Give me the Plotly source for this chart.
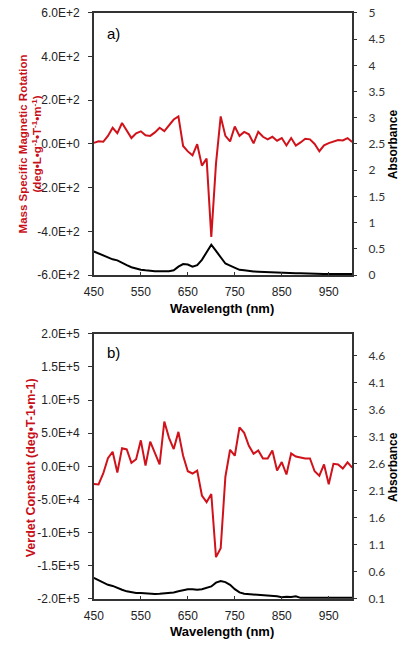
import plotly.graph_objects as go

wavelength = list(range(450, 1001, 10))

rotation_a = [5, 12, 10, 37, 74, 49, 96, 64, 27, 49, 58, 40, 37, 53, 74, 59, 86, 112, 126, -9,
              -34, -52, -1, -99, -67, -425, -90, 126, 37, 12, 80, 37, 55, 44, 3, 56, 33, 21, 33, 15,
              27, -7, 27, -7, 7, 24, 21, 0, -33, -6, 4, 12, 18, 16, 27, 9]
absorb_a = [0.45, 0.41, 0.37, 0.33, 0.30, 0.28, 0.23, 0.19, 0.15, 0.12, 0.10, 0.09, 0.08, 0.075, 0.075, 0.075,
            0.075, 0.09, 0.16, 0.21, 0.20, 0.16, 0.19, 0.29, 0.44, 0.58, 0.46, 0.33, 0.22, 0.18, 0.14, 0.10,
            0.09, 0.075, 0.07, 0.065, 0.06, 0.055, 0.055, 0.05, 0.05, 0.04, 0.04, 0.035, 0.035, 0.03, 0.03,
            0.03, 0.025, 0.02, 0.02, 0.02, 0.02, 0.02, 0.02, 0.02]

verdet_b = [-26500, -27400, -10800, 12300, 22000, -9300, 27400, 25500, 5400, 10800, 39200, 1000, 37200,
            18600, 2900, 67600, 43000, 26000, 52000, 16000, -7400, -10800, -6400, -44000, -54000, -41700,
            -137000, -123500, -15700, 25000, 16000, 58800, 50500, 31000, 19000, 24000, 11800, 11800, 24000,
            -6400, 6400, -12300, 19600, 14700, 12700, 11800, 11800, -7400, -14200, 2900, -27000, 3900, 2900,
            -3400, 5900, -2000]
absorb_b = [0.49, 0.45, 0.41, 0.36, 0.34, 0.30, 0.27, 0.24, 0.225, 0.21, 0.21, 0.20, 0.19, 0.19, 0.195, 0.20,
            0.21, 0.22, 0.24, 0.26, 0.28, 0.28, 0.27, 0.28, 0.30, 0.33, 0.40, 0.43, 0.41, 0.36, 0.28, 0.22,
            0.195, 0.19, 0.18, 0.17, 0.17, 0.165, 0.155, 0.15, 0.13, 0.14, 0.135, 0.15, 0.12, 0.12, 0.12,
            0.12, 0.12, 0.12, 0.12, 0.12, 0.125, 0.12, 0.13, 0.12]

x_ticks = [450, 550, 650, 750, 850, 950]
ya_vals = [-600, -400, -200, 0, 200, 400, 600]
ya_text = ["-6.0E+2", "-4.0E+2", "-2.0E+2", "0.0E+0", "2.0E+2", "4.0E+2", "6.0E+2"]
yb_vals = [-200000, -150000, -100000, -50000, 0, 50000, 100000, 150000, 200000]
yb_text = ["-2.0E+5", "-1.5E+5", "-1.0E+5", "-5.0E+4", "0.0E+0", "5.0E+4", "1.0E+5", "1.5E+5", "2.0E+5"]

RED = "#D0121B"
TITLE_RED = "#C8101A"
AX = "#333333"
ARIAL = "Liberation Sans, Arial, sans-serif"
CAL = "Lato, Open Sans, sans-serif"

fig = go.Figure()
fig.add_trace(go.Scatter(x=wavelength, y=rotation_a, mode="lines", line=dict(color=RED, width=2),
                         xaxis="x", yaxis="y", showlegend=False))
fig.add_trace(go.Scatter(x=wavelength, y=absorb_a, mode="lines", line=dict(color="black", width=2),
                         xaxis="x", yaxis="y2", showlegend=False))
fig.add_trace(go.Scatter(x=wavelength, y=verdet_b, mode="lines", line=dict(color=RED, width=2),
                         xaxis="x2", yaxis="y3", showlegend=False))
fig.add_trace(go.Scatter(x=wavelength, y=absorb_b, mode="lines", line=dict(color="black", width=2),
                         xaxis="x2", yaxis="y4", showlegend=False))

xdom = [86 / 400, 351 / 400]
ya_dom = [1 - 274 / 647, 1 - 6 / 647]
yb_dom = [1 - 605 / 647, 1 - 334 / 647]

xcommon = dict(domain=xdom, range=[450, 1000], tickvals=x_ticks, showgrid=False, zeroline=False,
               showline=True, linecolor=AX, linewidth=1.5, mirror=True, ticks="inside", ticklen=3,
               tickcolor=AX, tickfont=dict(family=ARIAL, size=12, color="#222"), ticklabelstandoff=5)
ycommon = dict(showgrid=False, zeroline=False, showline=True, linecolor=AX, linewidth=1.5,
               ticks="outside", ticklen=4, tickcolor=AX, tickwidth=1.2,
               tickfont=dict(family=ARIAL, size=12, color="#222"), ticklabelstandoff=6)
y2common = dict(showgrid=False, zeroline=False, showline=True, linecolor=AX, linewidth=1.5,
                ticks="outside", ticklen=3, tickcolor=AX, side="right",
                tickfont=dict(family=CAL, size=12, color="#333"), ticklabelstandoff=9)

fig.update_layout(
    width=400, height=647, margin=dict(l=0, r=0, t=0, b=0),
    paper_bgcolor="white", plot_bgcolor="white",
    xaxis=dict(anchor="y", **xcommon),
    yaxis=dict(domain=ya_dom, anchor="x", range=[-600, 600], tickvals=ya_vals, ticktext=ya_text, **ycommon),
    yaxis2=dict(overlaying="y", anchor="x", range=[0, 5], dtick=0.5, tick0=0, **y2common),
    xaxis2=dict(anchor="y3", **xcommon),
    yaxis3=dict(domain=yb_dom, anchor="x2", range=[-200000, 200000], tickvals=yb_vals, ticktext=yb_text, **ycommon),
    yaxis4=dict(overlaying="y3", anchor="x2", range=[0.1, 5.0], tick0=0.1, dtick=0.5, tickformat=".1f", **y2common),
)

def ann(text, x, y, size, color="black", angle=0, bold=True, family=ARIAL):
    fig.add_annotation(text=f"<b>{text}</b>" if bold else text, x=x / 400, y=1 - y / 647,
                       xref="paper", yref="paper", showarrow=False, textangle=angle,
                       font=dict(family=family, size=size, color=color), xanchor="center", yanchor="middle")

ann("Mass Specific Magnetic Rotation<br>(deg•L•g<sup>-1</sup>•T<sup>-1</sup>•m<sup>-1</sup>)", 21, 140, 11.5,
    color=TITLE_RED, angle=-90)
ann("Verdet Constant (deg•T-1•m-1)", 21, 471, 12.5, color=TITLE_RED, angle=-90)
ann("Wavelength (nm)", 217, 308, 13)
ann("Wavelength (nm)", 217, 638, 13)
ann("Absorbance", 393, 140, 12, angle=-90)
ann("Absorbance", 393, 470, 12, angle=-90)
ann("a)", 106, 27, 15, bold=False)
ann("b)", 106, 353, 15, bold=False)

fig.write_html("out.html")
